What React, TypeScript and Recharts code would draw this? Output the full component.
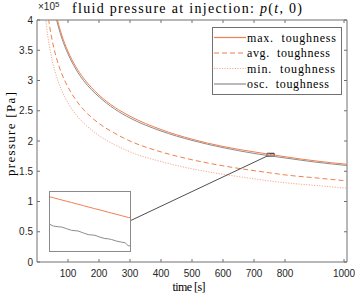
import React from "react";
import {
  LineChart,
  Line,
  XAxis,
  YAxis,
  ReferenceLine,
  ReferenceArea,
} from "recharts";

// time [s]
const times = [20, 25, 30, 35, 40, 50, 60, 70, 80, 100, 125, 150, 200, 250, 300, 400, 500, 600, 700, 750, 800, 900, 1000];
// pressure [1e5 Pa]
const maxTough = [5.95, 5.52, 5.2, 4.94, 4.72, 4.38, 4.13, 3.92, 3.75, 3.48, 3.23, 3.04, 2.76, 2.56, 2.41, 2.19, 2.03, 1.91, 1.82, 1.78, 1.74, 1.67, 1.615];
const avgTough = [4.94, 4.58, 4.31, 4.1, 3.92, 3.64, 3.42, 3.25, 3.11, 2.89, 2.68, 2.52, 2.29, 2.13, 2.0, 1.82, 1.69, 1.59, 1.51, 1.475, 1.44, 1.39, 1.34];
const minTough = [4.5, 4.17, 3.93, 3.73, 3.57, 3.31, 3.12, 2.96, 2.83, 2.63, 2.44, 2.3, 2.09, 1.94, 1.82, 1.66, 1.54, 1.45, 1.375, 1.34, 1.31, 1.265, 1.22];
const oscTough = [5.88, 5.45, 5.13, 4.88, 4.66, 4.33, 4.07, 3.87, 3.7, 3.44, 3.19, 3.0, 2.73, 2.53, 2.38, 2.165, 2.01, 1.89, 1.795, 1.755, 1.72, 1.65, 1.595];

// inset (zoom near t = 750 s)
const insetTimes = [742, 743, 744.4, 745.4, 746.8, 748.2, 749.2, 750.1, 751.6, 753.0, 754.0, 754.9, 756.4, 757.8, 758.8, 759.7, 761.2, 762.6, 763.6, 764.5, 765];
const insetMax = [1.785, 1.7842, 1.783, 1.7822, 1.781, 1.7799, 1.779, 1.7783, 1.777, 1.7758, 1.775, 1.7742, 1.773, 1.7718, 1.771, 1.7702, 1.769, 1.7678, 1.767, 1.7662, 1.766];
const insetOsc = [1.7598, 1.7583, 1.7577, 1.7574, 1.7559, 1.7544, 1.7541, 1.7538, 1.752, 1.7505, 1.7502, 1.7499, 1.7481, 1.7469, 1.7466, 1.746, 1.7445, 1.7436, 1.743, 1.7403, 1.7403];

const xTicks = [100, 200, 300, 400, 500, 600, 700, 800, 900, 1000];
const yTicks = [0, 50000, 100000, 150000, 200000, 250000, 300000, 350000, 400000];

const ORANGE = "#F07F4F";
const LIGHT = "#F6A98A";
const GRAY = "#8c8c8c";

const legendItems = [
  { label: "max.  toughness", color: ORANGE, dash: "", len: 89 },
  { label: "avg.  toughness", color: ORANGE, dash: "5 3", len: 83 },
  { label: "min.  toughness", color: LIGHT, dash: "1.2 1.4", len: 88 },
  { label: "osc.  toughness", color: GRAY, dash: "", len: 82 },
];

const mainData = times.map((t, i) => ({
  t,
  max: maxTough[i] * 1e5,
  avg: avgTough[i] * 1e5,
  min: minTough[i] * 1e5,
  osc: oscTough[i] * 1e5,
}));

const insetData = insetTimes.map((t, i) => ({
  t,
  max: insetMax[i] * 1e5,
  osc: insetOsc[i] * 1e5,
}));

const AX = "#707070";
const TXT = "#262626";
const SERIF = "'Liberation Serif', 'DejaVu Serif', serif";
const SANS = "'Liberation Sans', Arial, sans-serif";

const LEFT = 37;
const TOP = 20;
const RIGHT = 347;
const BOTTOM = 262;

const XTick = (props: any) => {
  const { x, payload } = props;
  return (
    <g>
      <line x1={x} x2={x} y1={BOTTOM} y2={BOTTOM - 3} stroke={AX} />
      <line x1={x} x2={x} y1={TOP} y2={TOP + 3} stroke={AX} />
      <text x={x} y={BOTTOM + 15} textAnchor="middle" fontSize={10} fontFamily={SANS} fill={TXT}>
        {payload.value}
      </text>
    </g>
  );
};

const YTick = (props: any) => {
  const { y, payload } = props;
  return (
    <g>
      <line x1={LEFT} x2={LEFT + 3} y1={y} y2={y} stroke={AX} />
      <line x1={RIGHT} x2={RIGHT - 3} y1={y} y2={y} stroke={AX} />
      <text x={LEFT - 4} y={y + 3.5} textAnchor="end" fontSize={10} fontFamily={SANS} fill={TXT}>
        {String(payload.value / 1e5)}
      </text>
    </g>
  );
};

export default function App() {
  return (
    <div style={{ position: "absolute", left: 0, top: 0, width: 360, height: 296, background: "#fff" }}>
      <LineChart
        width={360}
        height={296}
        data={mainData}
        margin={{ top: TOP, right: 360 - RIGHT, bottom: 4, left: 7 }}
      >
        <XAxis
          dataKey="t"
          type="number"
          domain={[0, 1000]}
          ticks={xTicks}
          height={30}
          tickLine={false}
          axisLine={{ stroke: AX }}
          tick={<XTick />}
          allowDataOverflow
        />
        <YAxis
          type="number"
          domain={[0, 400000]}
          ticks={yTicks}
          width={30}
          tickLine={false}
          axisLine={{ stroke: AX }}
          tick={<YTick />}
          allowDataOverflow
        />
        <ReferenceLine y={400000} stroke={AX} />
        <ReferenceLine x={1000} stroke={AX} />
        <Line dataKey="min" type="monotone" stroke={LIGHT} strokeWidth={1} strokeDasharray="1.2 1.4" dot={false} isAnimationActive={false} />
        <Line dataKey="avg" type="monotone" stroke={ORANGE} strokeWidth={1} strokeDasharray="5 3" dot={false} isAnimationActive={false} />
        <Line dataKey="osc" type="monotone" stroke={GRAY} strokeWidth={1} dot={false} isAnimationActive={false} />
        <Line dataKey="max" type="monotone" stroke={ORANGE} strokeWidth={1} dot={false} isAnimationActive={false} />
        <ReferenceArea x1={742} x2={765} y1={175000} y2={179700} fill="none" fillOpacity={0} stroke="#222" strokeWidth={1} />
        <ReferenceLine
          segment={[{ x: 300, y: 68000 }, { x: 742, y: 175000 }]}
          stroke="#222"
          strokeWidth={0.8}
        />
      </LineChart>

      <svg
        width={360}
        height={296}
        style={{ position: "absolute", left: 0, top: 0, pointerEvents: "none" }}
      >
        <text x={187} y={13} textAnchor="middle" fontSize={14} fontFamily={SERIF} fill="#000" textLength={230} lengthAdjust="spacing">
          fluid pressure at injection:{" "}
          <tspan fontStyle="italic">p</tspan>(<tspan fontStyle="italic">t</tspan>, 0)
        </text>
        <text x={38} y={10} fontSize={10} fontFamily={SANS} fill={TXT}>
          ×10<tspan fontSize={8} dy={-3.5}>5</tspan>
        </text>
        <text x={189} y={291} textAnchor="middle" fontSize={12} fontFamily={SERIF} fill="#000" textLength={33} lengthAdjust="spacing">
          time [s]
        </text>
        <text
          x={0}
          y={0}
          transform="translate(15,134) rotate(-90)"
          textAnchor="middle"
          fontSize={13}
          fontFamily={SERIF}
          fill="#000"
          textLength={84}
          lengthAdjust="spacing"
        >
          pressure [Pa]
        </text>
        <rect x={212.5} y={27.5} width={129} height={67} fill="#fff" stroke={AX} strokeWidth={1} />
        {legendItems.map((it, i) => {
          const cy = 37.5 + i * 15.5;
          return (
            <g key={it.label}>
              <path
                d={`M214,${cy}L246,${cy}`}
                fill="none"
                stroke={it.color}
                strokeWidth={1.2}
                strokeDasharray={it.dash || undefined}
              />
              <text x={247} y={cy + 4} fontSize={12} fontFamily={SERIF} fill="#000" textLength={it.len} lengthAdjust="spacing" style={{ whiteSpace: "pre" }}>
                {it.label}
              </text>
            </g>
          );
        })}
      </svg>

      <div
        style={{
          position: "absolute",
          left: 49,
          top: 191,
          width: 80,
          height: 59,
          border: "1px solid #8a8a8a",
          background: "#fff",
        }}
      >
        <LineChart width={80} height={59} data={insetData} margin={{ top: 0, right: 0, bottom: 0, left: 0 }}>
          <XAxis dataKey="t" type="number" domain={[742, 765]} hide />
          <YAxis type="number" domain={[173550, 178950]} hide />
          <Line dataKey="osc" type="linear" stroke={GRAY} strokeWidth={1} dot={false} isAnimationActive={false} />
          <Line dataKey="max" type="linear" stroke={ORANGE} strokeWidth={1} dot={false} isAnimationActive={false} />
        </LineChart>
      </div>
    </div>
  );
}
